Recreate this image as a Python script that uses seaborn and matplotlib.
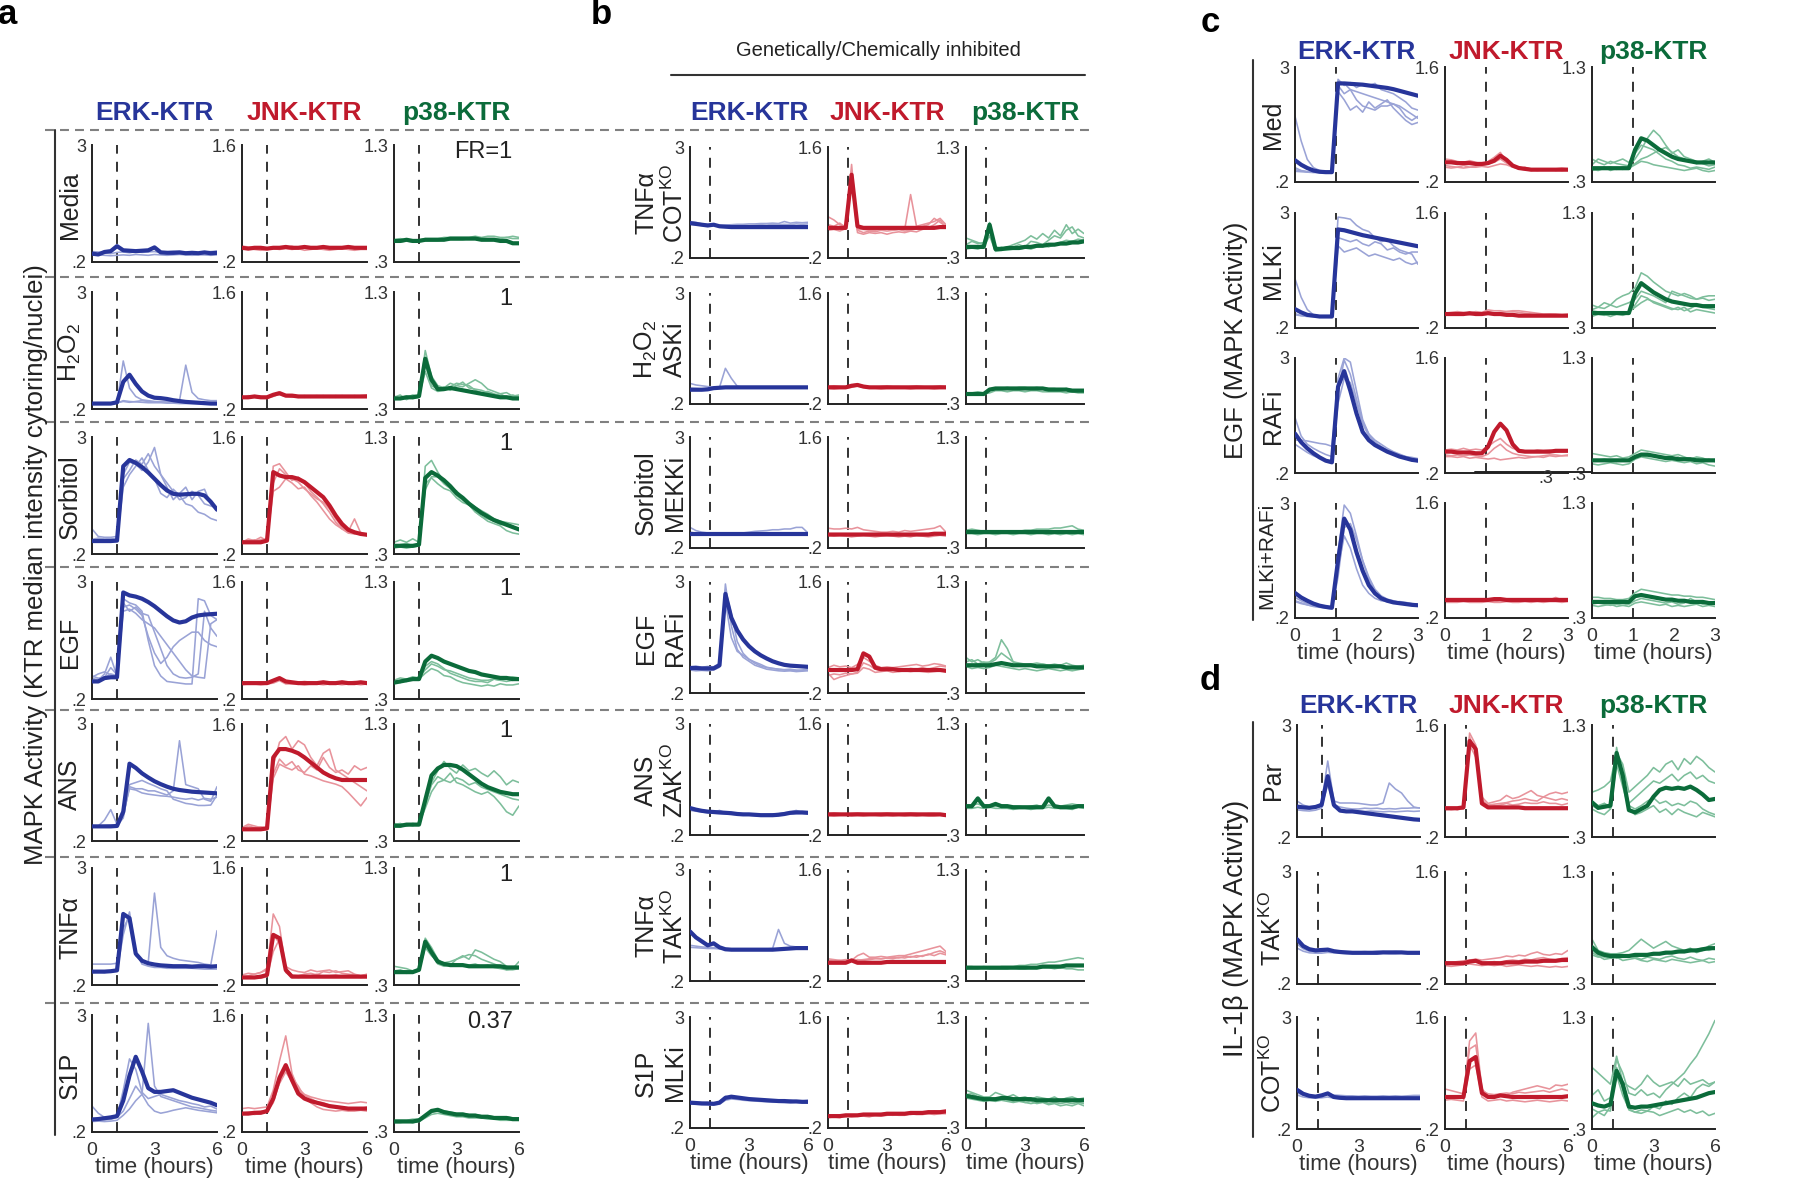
import matplotlib
matplotlib.use('Agg')
import matplotlib.pyplot as plt
from matplotlib.lines import Line2D
from matplotlib import font_manager
import pandas as pd
import seaborn as sns

# time grids (hours)
T6 = [0, .3, .6, .9, 1.2, 1.5, 1.8, 2.1, 2.4, 2.7, 3.0, 3.3, 3.6, 3.9, 4.2, 4.5, 4.8, 5.1, 5.4, 5.7, 6.0]
T3 = [0, .15, .3, .45, .6, .75, .9, 1.05, 1.2, 1.35, 1.5, 1.65, 1.8, 1.95, 2.1, 2.25, 2.4, 2.55, 2.7, 2.85, 3.0]

# each reporter: first list = mean trace (thick), others = single replicates (thin)
# ---------------- panel a ----------------
a_media_erk = [[.40,.38,.44,.46,.58,.48,.47,.46,.47,.48,.55,.43,.42,.42,.43,.41,.42,.41,.43,.41,.42],
               [.45,.44,.42,.40,.43,.44,.42,.45,.43,.44,.45,.42,.44,.46,.45,.44,.43,.42,.44,.45,.46],
               [.36,.37,.36,.35,.36,.37,.36,.38,.37,.36,.38,.37,.36,.37,.38,.37,.36,.37,.37,.36,.37]]
a_media_jnk = [[.37,.36,.37,.37,.36,.37,.37,.38,.37,.37,.38,.37,.37,.38,.37,.37,.37,.38,.37,.37,.37],
               [.39,.38,.37,.38,.36,.37,.36,.37,.39,.36,.37,.36,.38,.37,.36,.37,.36,.37,.36,.37,.36],
               [.35,.36,.35,.34,.35,.36,.35,.36,.35,.36,.34,.35,.36,.35,.34,.35,.36,.35,.34,.35,.35]]
a_media_p38 = [[.48,.48,.49,.48,.48,.49,.49,.49,.49,.50,.50,.50,.50,.50,.49,.49,.49,.48,.48,.46,.46],
               [.49,.50,.49,.49,.49,.50,.50,.50,.51,.51,.51,.51,.51,.52,.51,.52,.52,.51,.51,.52,.51],
               [.47,.47,.48,.47,.48,.48,.48,.48,.49,.49,.49,.49,.50,.50,.50,.50,.50,.50,.51,.50,.50]]

a_h2o2_erk = [[.33,.33,.33,.33,.36,.85,1.02,.80,.62,.52,.47,.46,.44,.41,.39,.37,.36,.35,.34,.33,.33],
              [.32,.32,.33,.33,.34,1.35,.70,.50,.42,.40,.38,.37,.37,.36,.35,.36,.35,.34,.34,.34,.35],
              [.33,.33,.34,.34,.35,.38,.36,.38,.40,.38,.37,.38,.37,.37,.40,1.25,.60,.45,.42,.40,.40],
              [.34,.34,.33,.34,.34,.40,.38,.37,.36,.35,.35,.35,.34,.34,.33,.33,.33,.33,.33,.33,.33]]
a_h2o2_jnk = [[.34,.34,.35,.34,.34,.37,.39,.36,.36,.35,.35,.35,.35,.35,.35,.35,.35,.35,.35,.35,.35],
              [.33,.36,.34,.33,.35,.36,.37,.35,.34,.36,.34,.35,.36,.34,.35,.34,.36,.35,.34,.36,.37],
              [.35,.33,.36,.35,.33,.35,.38,.37,.35,.34,.36,.34,.35,.36,.34,.36,.35,.34,.36,.35,.36]]
a_h2o2_p38 = [[.39,.39,.40,.40,.41,.73,.55,.47,.47,.48,.47,.46,.45,.44,.43,.42,.41,.40,.40,.39,.39],
              [.40,.42,.38,.41,.40,.80,.58,.50,.48,.52,.50,.49,.52,.55,.52,.47,.45,.43,.44,.41,.42],
              [.38,.40,.41,.39,.40,.68,.50,.47,.49,.46,.50,.53,.48,.47,.46,.44,.42,.43,.40,.42,.40],
              [.41,.39,.40,.42,.41,.62,.48,.45,.46,.49,.52,.51,.50,.46,.44,.45,.43,.41,.41,.40,.41]]

a_sorb_erk = [[.51,.51,.51,.51,.52,2.30,2.45,2.38,2.28,2.15,2.00,1.85,1.72,1.64,1.62,1.63,1.64,1.64,1.60,1.45,1.26],
              [.80,.62,.60,.60,.62,2.0,2.2,2.45,2.35,2.6,2.3,2.1,1.9,1.7,1.5,1.55,1.7,1.6,1.4,1.35,1.3],
              [.55,.58,.56,.57,.55,1.8,2.1,2.3,2.5,2.2,2.0,1.65,1.55,1.75,1.6,1.4,1.35,1.2,1.15,1.05,1.0],
              [.48,.50,.49,.50,.52,2.1,2.4,2.35,2.2,2.4,2.75,2.1,1.8,1.5,1.65,1.8,1.5,1.7,1.75,1.4,1.3]]
a_sorb_jnk = [[.34,.34,.34,.34,.36,1.18,1.14,1.12,1.12,1.10,1.06,1.00,.94,.88,.78,.66,.56,.49,.46,.44,.43],
              [.34,.38,.36,.40,.36,1.25,1.28,1.18,1.08,1.12,1.05,.95,.88,.80,.70,.58,.50,.47,.62,.45,.44],
              [.35,.36,.35,.37,.38,.95,1.00,1.10,1.05,.98,1.00,.90,.82,.72,.62,.55,.50,.45,.44,.46,.42],
              [.36,.35,.37,.36,.37,1.05,1.22,1.15,1.10,1.06,.98,.92,.86,.82,.74,.62,.52,.46,.45,.43,.44]]
a_sorb_p38 = [[.37,.37,.37,.37,.38,.95,1.00,.97,.93,.88,.82,.78,.73,.69,.65,.62,.59,.57,.55,.53,.51],
              [.40,.42,.40,.43,.40,1.05,1.10,1.00,.92,.86,.80,.76,.72,.66,.62,.60,.58,.55,.56,.54,.50],
              [.36,.38,.39,.37,.38,.90,.95,.90,.86,.84,.78,.74,.72,.66,.62,.58,.56,.54,.50,.48,.47],
              [.35,.36,.35,.36,.37,.85,.96,.96,.90,.86,.84,.78,.74,.70,.67,.64,.60,.58,.57,.56,.55]]

a_egf_erk = [[.62,.62,.70,.72,.72,2.75,2.68,2.65,2.60,2.52,2.42,2.30,2.18,2.08,2.03,2.06,2.15,2.20,2.22,2.23,2.24],
             [.70,.65,.80,1.2,.75,2.6,2.5,2.45,2.3,1.6,1.0,.75,.62,.60,.58,.56,.56,2.6,2.55,2.2,2.1],
             [.75,.70,.72,.80,.76,2.4,2.45,2.35,2.2,1.7,1.3,1.05,1.2,1.45,1.6,1.7,1.8,1.8,1.6,1.5,1.45],
             [.65,.68,.72,.95,.78,2.5,2.3,2.4,2.25,2.2,1.8,1.4,1.0,.80,.72,.70,.72,.80,2.3,1.9,1.7],
             [.72,.80,.85,.78,.74,2.3,2.35,2.25,2.1,2.0,1.9,1.7,1.5,1.3,1.1,.9,.75,.72,.70,2.0,2.1]]
a_egf_jnk = [[.39,.39,.39,.39,.39,.42,.45,.41,.40,.39,.39,.39,.39,.40,.39,.39,.40,.39,.39,.40,.39],
             [.38,.40,.39,.38,.40,.41,.43,.40,.39,.40,.41,.40,.39,.41,.40,.39,.41,.40,.41,.40,.40],
             [.37,.38,.38,.37,.38,.39,.42,.38,.38,.38,.37,.38,.38,.37,.38,.38,.37,.38,.38,.37,.38]]
a_egf_p38 = [[.44,.45,.46,.47,.47,.62,.67,.65,.62,.60,.58,.56,.54,.53,.51,.50,.49,.48,.48,.47,.47],
             [.46,.48,.47,.49,.48,.55,.60,.58,.55,.54,.52,.50,.48,.47,.46,.46,.47,.46,.48,.49,.48],
             [.43,.46,.45,.48,.47,.52,.56,.54,.50,.49,.46,.44,.43,.42,.41,.42,.41,.43,.42,.42,.43],
             [.45,.44,.47,.46,.49,.58,.62,.60,.56,.52,.50,.48,.46,.45,.45,.44,.47,.46,.45,.46,.48]]

a_ans_erk = [[.55,.55,.55,.55,.56,.90,2.05,1.95,1.82,1.72,1.63,1.56,1.50,1.45,1.42,1.40,1.38,1.37,1.36,1.35,1.34],
             [.55,.56,.70,.95,.60,.80,1.50,1.45,1.45,1.40,1.40,1.35,1.30,1.40,2.60,1.55,1.50,1.45,1.20,1.15,1.50],
             [.57,.56,.57,.58,.57,.75,1.55,1.60,1.65,1.58,1.52,1.45,1.40,1.20,1.15,1.10,1.08,1.05,1.05,1.06,1.30],
             [.54,.55,.54,.55,.56,.85,1.45,1.42,1.35,1.32,1.30,1.28,1.27,1.25,1.22,1.20,1.22,1.18,1.22,1.20,1.25]]
a_ans_jnk = [[.34,.34,.34,.34,.35,1.20,1.30,1.30,1.28,1.25,1.20,1.14,1.08,1.02,.98,.95,.93,.93,.93,.93,.93],
             [.36,.40,.38,.36,.36,1.10,1.38,1.45,1.30,1.40,1.35,1.20,1.10,1.25,1.30,1.05,1.00,.95,.90,.85,.80],
             [.35,.38,.36,.37,.36,1.00,1.18,1.10,1.15,1.05,1.02,1.10,1.05,1.20,1.08,1.02,1.05,1.00,1.10,1.05,1.08],
             [.33,.35,.34,.34,.35,.95,1.12,1.08,1.05,1.10,1.00,.98,.95,.92,.90,.88,.85,.78,.70,.62,.72]]
a_ans_p38 = [[.43,.43,.44,.44,.44,.65,.86,.92,.95,.95,.94,.91,.87,.83,.79,.76,.74,.72,.71,.70,.70],
             [.45,.44,.43,.45,.44,.60,.80,.90,.98,.92,.88,.95,.90,.92,.88,.85,.90,.85,.78,.82,.80],
             [.43,.42,.44,.43,.45,.62,.78,.85,.82,.88,.80,.78,.75,.72,.70,.72,.68,.62,.55,.52,.60],
             [.44,.45,.43,.44,.45,.58,.72,.80,.82,.80,.84,.82,.78,.80,.76,.74,.72,.70,.68,.66,.65]]

a_tnf_erk = [[.52,.52,.52,.53,.55,1.90,1.80,.95,.78,.72,.69,.67,.66,.65,.65,.65,.64,.65,.65,.64,.65],
             [.70,.70,.70,.70,.72,1.55,1.85,.90,.78,.74,2.40,1.10,.90,.84,.80,.78,.76,.74,.70,.68,1.50],
             [.50,.51,.50,.52,.54,1.40,1.95,1.00,.70,.65,.62,.62,.60,.60,.60,.60,.60,.59,.58,.58,.58]]
a_tnf_jnk = [[.29,.29,.29,.30,.32,.80,.76,.38,.30,.30,.30,.30,.30,.30,.30,.30,.30,.30,.30,.30,.30],
             [.30,.31,.33,.35,.38,1.05,.90,.40,.32,.31,.33,.34,.32,.36,.35,.37,.34,.33,.32,.31,.32],
             [.32,.34,.33,.35,.40,.80,.70,.42,.38,.36,.35,.38,.36,.37,.38,.35,.36,.37,.33,.31,.33],
             [.28,.29,.30,.28,.30,.60,.75,.35,.30,.29,.30,.31,.33,.30,.31,.32,.30,.31,.30,.29,.30]]
a_tnf_p38 = [[.41,.41,.41,.41,.43,.67,.58,.50,.48,.47,.47,.47,.46,.46,.46,.46,.46,.46,.45,.45,.45],
             [.46,.45,.44,.42,.44,.70,.62,.52,.48,.47,.52,.55,.52,.60,.58,.55,.52,.50,.46,.44,.45],
             [.42,.43,.41,.42,.42,.62,.55,.50,.49,.50,.52,.54,.56,.55,.52,.50,.48,.46,.43,.44,.50],
             [.40,.41,.40,.41,.42,.64,.56,.48,.46,.47,.48,.46,.47,.48,.46,.47,.45,.44,.43,.43,.44]]

a_s1p_erk = [[.50,.51,.53,.55,.58,.95,1.55,2.00,1.65,1.25,1.16,1.16,1.18,1.20,1.14,1.08,1.02,.98,.94,.90,.84],
             [.52,.50,.49,.50,.55,.70,1.00,1.30,1.10,2.80,1.30,1.05,1.00,.95,.90,.85,.80,.78,.75,.72,.70],
             [.82,.65,.55,.52,.56,1.20,1.95,1.70,1.15,1.00,1.05,1.10,1.05,1.00,.95,.92,.88,.85,.80,.82,.75],
             [.45,.46,.45,.46,.48,.60,.75,.95,1.10,.85,.70,.65,.68,.72,.75,.78,.75,.72,.70,.68,.66]]
a_s1p_jnk = [[.42,.42,.43,.43,.45,.60,.85,1.00,.82,.66,.60,.57,.55,.53,.51,.50,.49,.48,.48,.48,.48],
             [.48,.49,.48,.49,.50,.70,1.05,1.35,.90,.72,.65,.62,.60,.58,.57,.56,.55,.54,.55,.56,.55],
             [.41,.42,.41,.42,.44,.55,.80,.95,.85,.75,.62,.55,.50,.47,.46,.45,.46,.45,.45,.46,.45],
             [.43,.44,.44,.45,.46,.58,.78,.92,.80,.70,.64,.60,.56,.55,.52,.50,.48,.46,.47,.48,.50]]
a_s1p_p38 = [[.39,.39,.39,.39,.40,.44,.48,.49,.47,.46,.45,.45,.44,.44,.43,.43,.42,.42,.42,.41,.41],
             [.38,.38,.39,.38,.39,.42,.45,.46,.45,.44,.43,.43,.42,.42,.42,.41,.41,.40,.40,.40,.40],
             [.40,.40,.40,.41,.41,.43,.47,.48,.48,.47,.46,.46,.45,.45,.44,.44,.43,.43,.43,.42,.42]]

# ---------------- panel b ----------------
b_cot_erk = [[1.08,1.06,1.04,1.02,1.04,1.00,.99,.98,.98,.98,.98,.98,.98,.98,.98,.98,.98,.98,.98,.98,.98],
             [1.12,1.10,1.06,1.05,1.03,1.02,1.03,1.04,1.05,1.05,1.06,1.06,1.07,1.07,1.08,1.07,1.12,1.08,1.10,1.09,1.10],
             [1.05,1.04,1.02,1.01,1.02,1.00,1.01,1.01,1.02,1.03,1.02,1.03,1.04,1.03,1.05,1.04,1.05,1.04,1.06,1.05,1.06]]
b_cot_jnk = [[.58,.58,.58,.58,1.25,.60,.58,.58,.58,.58,.58,.58,.58,.58,.58,.58,.58,.58,.58,.59,.59],
             [.72,.68,.62,.60,1.38,.55,.52,.54,.53,.55,.54,.55,.56,.54,.55,.57,.60,.62,.70,.65,.60],
             [.62,.60,.64,.58,1.30,.56,.56,.55,.55,.56,.57,.55,.56,.56,1.00,.60,.62,.64,.66,.70,.62],
             [.55,.56,.54,.57,1.15,.52,.50,.52,.51,.52,.50,.52,.53,.52,.54,.53,.56,.58,.62,.68,.58]]
b_cot_p38 = [[.40,.40,.40,.40,.60,.38,.38,.39,.39,.39,.40,.40,.41,.41,.42,.42,.43,.43,.44,.44,.45],
             [.48,.46,.44,.42,.55,.40,.39,.40,.42,.44,.46,.50,.47,.52,.48,.55,.50,.60,.52,.56,.52],
             [.42,.45,.43,.44,.62,.38,.40,.38,.40,.42,.40,.45,.44,.42,.46,.50,.48,.55,.58,.50,.48],
             [.38,.39,.38,.40,.50,.36,.37,.37,.38,.38,.39,.38,.40,.41,.40,.42,.44,.46,.45,.47,.46]]

b_ask_erk = [[.56,.56,.56,.57,.60,.61,.62,.62,.62,.62,.62,.62,.62,.62,.62,.62,.62,.62,.62,.62,.62],
             [.72,.68,.66,.64,.62,.62,1.10,.85,.65,.62,.62,.63,.62,.63,.62,.62,.63,.62,.62,.63,.62],
             [.60,.59,.58,.58,.60,.60,.61,.60,.60,.61,.60,.61,.60,.60,.61,.60,.60,.61,.60,.60,.60]]
b_ask_jnk = [[.41,.41,.41,.41,.43,.44,.42,.41,.41,.41,.41,.41,.41,.41,.41,.41,.41,.41,.41,.41,.41],
             [.42,.43,.42,.41,.44,.45,.43,.42,.41,.42,.43,.42,.42,.41,.42,.43,.42,.41,.42,.43,.42],
             [.40,.39,.40,.40,.41,.43,.41,.40,.40,.39,.40,.40,.40,.40,.39,.40,.40,.40,.39,.40,.40]]
b_ask_p38 = [[.39,.39,.39,.39,.43,.44,.44,.44,.44,.44,.44,.44,.44,.44,.43,.43,.43,.43,.42,.42,.42],
             [.40,.40,.41,.40,.42,.43,.44,.45,.44,.45,.45,.44,.45,.44,.44,.44,.43,.44,.43,.43,.43],
             [.38,.38,.38,.39,.40,.42,.42,.41,.42,.42,.41,.42,.42,.41,.41,.41,.41,.40,.41,.40,.40]]

b_mekk_erk = [[.56,.56,.56,.56,.56,.56,.56,.56,.56,.56,.56,.56,.56,.56,.56,.56,.56,.56,.56,.56,.56],
              [.72,.64,.60,.58,.57,.57,.58,.57,.58,.58,.60,.62,.63,.64,.66,.66,.68,.68,.72,.72,.58],
              [.60,.57,.56,.55,.54,.55,.54,.55,.54,.55,.54,.53,.54,.55,.54,.55,.54,.53,.54,.55,.54]]
b_mekk_jnk = [[.37,.37,.37,.37,.37,.37,.37,.37,.37,.37,.37,.37,.37,.37,.37,.37,.37,.37,.38,.38,.38],
              [.45,.44,.44,.45,.44,.46,.43,.42,.41,.40,.40,.41,.40,.42,.41,.42,.43,.44,.45,.48,.40],
              [.36,.35,.36,.35,.34,.35,.36,.35,.34,.35,.36,.35,.34,.35,.34,.36,.35,.34,.35,.36,.35]]
b_mekk_p38 = [[.44,.44,.44,.44,.44,.44,.44,.44,.44,.44,.44,.44,.44,.44,.44,.44,.44,.44,.44,.44,.44],
              [.46,.47,.46,.45,.45,.44,.45,.44,.45,.45,.46,.46,.47,.47,.47,.48,.48,.49,.50,.47,.46],
              [.43,.43,.42,.43,.43,.42,.43,.43,.42,.43,.43,.42,.43,.43,.42,.43,.42,.43,.42,.43,.42]]

b_raf_erk = [[.83,.83,.82,.82,.82,.90,2.70,2.10,1.78,1.55,1.38,1.25,1.15,1.07,1.00,.95,.91,.89,.88,.87,.86],
             [.78,.76,.77,.76,.78,.85,2.95,1.90,1.30,1.10,1.00,.90,.85,.80,.78,.76,.75,.76,.74,.75,.76],
             [.86,.88,.85,.87,.86,.95,2.50,1.60,1.25,1.15,1.05,.98,.92,.85,.82,.80,.78,.77,.76,.78,.80],
             [.80,.79,.80,.80,.81,.88,2.80,2.20,1.50,1.20,1.05,.95,.88,.84,.82,.80,.79,.80,.78,.77,.78]]
b_raf_jnk = [[.49,.49,.49,.49,.49,.50,.70,.66,.52,.50,.50,.50,.49,.49,.49,.49,.49,.49,.49,.49,.48],
             [.45,.37,.40,.42,.44,.46,.58,.55,.50,.48,.50,.52,.50,.49,.51,.50,.52,.50,.52,.54,.53],
             [.52,.55,.53,.54,.52,.56,.65,.60,.55,.52,.53,.52,.53,.54,.55,.56,.54,.55,.57,.56,.54],
             [.42,.44,.43,.45,.44,.45,.52,.50,.46,.47,.48,.46,.47,.48,.47,.48,.47,.46,.47,.48,.47]]
b_raf_p38 = [[.55,.55,.55,.55,.55,.56,.57,.56,.55,.55,.55,.55,.54,.54,.54,.54,.54,.53,.53,.53,.53],
             [.62,.58,.60,.57,.58,.62,.78,.70,.58,.57,.56,.56,.55,.56,.55,.54,.55,.54,.53,.54,.55],
             [.58,.60,.56,.58,.57,.60,.66,.62,.58,.56,.55,.56,.57,.56,.55,.56,.55,.57,.55,.54,.54],
             [.54,.52,.53,.52,.53,.55,.54,.53,.52,.51,.52,.51,.50,.51,.52,.51,.50,.51,.50,.51,.52]]

b_zak_erk = [[.88,.84,.81,.79,.78,.77,.76,.75,.73,.72,.72,.71,.70,.70,.70,.71,.73,.76,.77,.77,.76],
             [.86,.83,.80,.78,.78,.82,.76,.75,.74,.74,.73,.72,.72,.72,.73,.74,.76,.78,.82,.77,.76],
             [.82,.80,.78,.76,.75,.74,.73,.72,.71,.70,.70,.69,.69,.69,.70,.71,.72,.73,.74,.74,.73]]
b_zak_jnk = [[.46,.46,.46,.46,.46,.46,.46,.46,.46,.46,.46,.46,.46,.46,.46,.46,.46,.46,.46,.46,.45],
             [.47,.48,.47,.46,.47,.48,.47,.46,.47,.47,.48,.47,.46,.47,.48,.47,.46,.47,.47,.46,.46],
             [.45,.44,.45,.45,.44,.45,.44,.45,.45,.44,.45,.44,.45,.44,.45,.44,.45,.44,.44,.45,.44]]
b_zak_p38 = [[.56,.56,.63,.56,.56,.58,.56,.56,.55,.55,.55,.55,.55,.55,.63,.56,.55,.55,.55,.56,.56],
             [.55,.57,.58,.56,.57,.56,.57,.55,.56,.56,.55,.56,.57,.55,.57,.56,.56,.57,.58,.57,.56],
             [.54,.54,.55,.54,.55,.54,.54,.54,.53,.54,.54,.53,.54,.54,.55,.54,.54,.54,.53,.55,.54]]

b_tak_erk = [[1.45,1.30,1.20,1.10,1.15,1.05,1.00,.99,.99,.99,.99,.99,.99,.99,.99,1.00,1.01,1.02,1.03,1.03,1.03],
             [1.10,1.08,1.06,1.05,1.04,1.03,1.02,1.01,1.00,1.00,1.00,1.00,1.00,1.01,1.02,1.50,1.15,1.08,1.06,1.05,1.05],
             [1.05,1.04,1.03,1.02,1.02,1.01,1.00,1.00,.99,.99,.99,.98,.99,.99,1.00,1.00,1.01,1.02,1.03,1.04,1.03]]
b_tak_jnk = [[.43,.43,.43,.43,.46,.43,.43,.43,.43,.43,.44,.44,.44,.44,.44,.44,.44,.44,.44,.44,.44],
             [.48,.47,.46,.47,.46,.52,.55,.50,.50,.51,.50,.51,.52,.52,.54,.56,.58,.60,.62,.64,.57],
             [.46,.45,.44,.45,.45,.46,.47,.48,.49,.48,.49,.48,.50,.49,.51,.50,.52,.53,.56,.58,.55],
             [.44,.45,.46,.44,.45,.47,.46,.47,.48,.48,.49,.50,.49,.51,.50,.52,.51,.54,.52,.55,.53]]
b_tak_p38 = [[.42,.42,.42,.42,.42,.42,.42,.42,.42,.42,.42,.42,.42,.43,.43,.43,.43,.44,.44,.44,.44],
             [.43,.43,.42,.43,.42,.42,.43,.43,.43,.44,.44,.45,.45,.46,.47,.47,.48,.49,.50,.51,.50],
             [.41,.41,.41,.42,.41,.41,.41,.41,.42,.41,.41,.42,.42,.42,.42,.41,.42,.41,.41,.40,.40]]

b_mlk_erk = [[.84,.83,.82,.82,.81,.84,.96,.99,.97,.95,.93,.92,.91,.90,.89,.88,.88,.87,.87,.86,.86],
             [.86,.85,.84,.83,.82,.86,1.00,.97,.95,.94,.92,.93,.91,.90,.91,.88,.89,.90,.87,.88,.90],
             [.80,.80,.79,.78,.78,.80,.90,.93,.92,.90,.89,.88,.87,.86,.85,.85,.84,.84,.85,.84,.84]]
b_mlk_jnk = [[.35,.35,.35,.36,.36,.36,.37,.37,.37,.37,.38,.38,.38,.38,.39,.39,.39,.40,.40,.40,.41],
             [.34,.36,.35,.34,.36,.35,.36,.38,.36,.37,.37,.36,.38,.39,.37,.38,.40,.38,.41,.40,.42],
             [.33,.34,.33,.35,.34,.35,.35,.34,.36,.35,.36,.37,.36,.36,.38,.37,.37,.38,.37,.38,.38]]
b_mlk_p38 = [[.59,.58,.57,.56,.56,.56,.57,.57,.56,.56,.56,.56,.55,.55,.55,.55,.55,.55,.55,.55,.55],
             [.64,.62,.60,.58,.58,.62,.60,.58,.60,.57,.58,.56,.58,.57,.56,.58,.55,.57,.58,.56,.57],
             [.60,.61,.58,.57,.56,.55,.58,.55,.54,.56,.53,.54,.52,.53,.51,.52,.50,.51,.50,.52,.50],
             [.57,.56,.55,.54,.55,.54,.55,.54,.53,.54,.53,.52,.53,.54,.52,.53,.52,.53,.52,.53,.52]]

# ---------------- panel c (EGF, 0-3 h) ----------------
c_med_erk = [[.73,.62,.54,.48,.45,.44,.44,2.60,2.60,2.59,2.58,2.57,2.55,2.53,2.51,2.49,2.46,2.42,2.38,2.34,2.30],
             [1.80,1.20,.75,.55,.48,.46,.45,2.70,2.55,2.62,2.50,2.58,2.55,2.60,2.45,2.40,2.35,2.25,2.15,2.00,1.95],
             [.50,.47,.45,.44,.44,.43,.44,2.40,2.20,1.95,2.05,1.90,2.15,2.00,2.10,2.20,2.00,1.85,1.70,1.60,1.65],
             [.46,.45,.44,.43,.43,.42,.43,2.55,2.35,2.45,2.20,2.05,2.00,1.95,2.05,2.05,2.10,2.05,1.95,1.85,1.75],
             [.55,.48,.45,.44,.43,.43,.44,2.65,2.60,2.45,2.40,2.35,2.30,2.25,2.20,2.15,2.10,2.00,1.80,1.70,1.80]]
c_med_jnk = [[.44,.44,.43,.43,.43,.42,.42,.43,.46,.52,.47,.40,.37,.36,.35,.35,.35,.35,.35,.35,.35],
             [.48,.47,.45,.44,.46,.44,.42,.45,.50,.56,.45,.40,.38,.37,.36,.36,.35,.36,.36,.37,.36],
             [.40,.39,.38,.40,.38,.39,.40,.42,.44,.48,.43,.39,.36,.38,.35,.34,.35,.36,.34,.35,.36],
             [.38,.37,.38,.37,.38,.38,.39,.38,.40,.42,.41,.38,.36,.35,.34,.35,.36,.35,.35,.34,.35]]
c_med_p38 = [[.42,.42,.42,.42,.42,.42,.42,.58,.68,.66,.62,.58,.55,.52,.50,.49,.48,.47,.47,.47,.47],
             [.50,.47,.45,.48,.46,.45,.44,.50,.58,.68,.75,.70,.62,.55,.58,.52,.50,.48,.46,.44,.45],
             [.45,.50,.48,.46,.48,.50,.47,.55,.62,.60,.58,.54,.50,.48,.45,.44,.42,.43,.42,.41,.43],
             [.40,.41,.43,.40,.42,.41,.43,.46,.50,.52,.55,.58,.60,.56,.52,.50,.48,.46,.48,.50,.47],
             [.41,.40,.42,.43,.41,.43,.42,.45,.48,.47,.45,.44,.43,.42,.41,.40,.41,.42,.40,.39,.40]]

c_mlk_erk = [[.66,.58,.52,.50,.48,.48,.48,2.60,2.58,2.54,2.50,2.46,2.43,2.40,2.37,2.34,2.31,2.28,2.25,2.22,2.19],
             [1.40,.95,.65,.52,.49,.48,.48,2.90,2.88,2.85,2.70,2.60,2.55,2.40,2.30,2.35,2.20,2.10,2.05,2.00,1.75],
             [.55,.50,.49,.48,.47,.47,.48,2.40,2.35,2.30,2.35,2.25,2.20,2.30,2.25,2.10,2.15,2.05,2.00,2.05,2.05],
             [.52,.50,.48,.48,.48,.48,.47,2.20,2.05,2.10,2.15,2.05,1.95,2.00,1.95,1.90,1.85,1.90,1.80,1.75,1.80]]
c_mlk_jnk = [[.37,.37,.37,.37,.38,.37,.37,.38,.37,.37,.36,.36,.35,.35,.35,.35,.35,.35,.35,.35,.35],
             [.38,.39,.40,.39,.38,.40,.39,.42,.41,.41,.40,.41,.41,.40,.39,.38,.37,.37,.37,.36,.37],
             [.36,.37,.36,.37,.36,.37,.36,.40,.38,.39,.40,.40,.39,.38,.37,.36,.36,.37,.36,.36,.36]]
c_mlk_p38 = [[.43,.43,.43,.43,.43,.43,.43,.60,.69,.65,.61,.58,.55,.53,.52,.51,.50,.50,.49,.49,.49],
             [.50,.48,.52,.50,.55,.58,.60,.65,.78,.75,.70,.66,.62,.60,.58,.60,.58,.55,.56,.54,.55],
             [.46,.48,.47,.50,.48,.50,.52,.55,.62,.60,.58,.55,.52,.62,.60,.58,.56,.55,.57,.58,.58],
             [.40,.42,.41,.43,.42,.41,.43,.50,.58,.56,.52,.50,.48,.46,.48,.45,.47,.50,.48,.47,.46],
             [.45,.44,.42,.40,.42,.43,.44,.48,.52,.55,.53,.51,.49,.47,.46,.48,.44,.46,.45,.44,.43]]

c_raf_erk = [[1.16,.95,.80,.68,.58,.50,.46,2.30,2.68,2.20,1.65,1.20,1.00,.88,.80,.72,.66,.60,.56,.52,.50],
             [1.55,1.10,.90,.80,.72,.65,.60,2.50,3.00,2.90,2.20,1.50,1.15,1.00,.90,.80,.72,.66,.60,.55,.52],
             [1.00,1.00,.98,.95,.92,.90,.85,2.20,2.95,2.60,2.00,1.45,1.15,.95,.85,.75,.68,.62,.56,.50,.48],
             [.90,.80,.70,.62,.56,.52,.50,1.90,2.50,2.40,1.90,1.40,1.10,.95,.82,.74,.68,.64,.60,.58,.55]]
c_raf_jnk = [[.46,.46,.45,.45,.45,.44,.44,.52,.70,.80,.72,.55,.47,.46,.46,.46,.46,.46,.47,.47,.47],
             [.48,.49,.48,.50,.48,.49,.48,.52,.58,.62,.55,.50,.48,.47,.46,.48,.47,.48,.46,.47,.48],
             [.42,.41,.42,.41,.42,.41,.40,.43,.50,.55,.48,.44,.42,.41,.40,.40,.41,.42,.42,.41,.42],
             [.40,.40,.39,.40,.38,.39,.38,.37,.38,.36,.37,.38,.39,.38,.39,.40,.39,.41,.40,.41,.41]]
c_raf_p38 = [[.41,.41,.41,.41,.41,.41,.41,.44,.46,.46,.45,.44,.43,.43,.42,.42,.42,.41,.41,.41,.41],
             [.47,.46,.45,.44,.45,.43,.44,.47,.50,.49,.48,.47,.46,.45,.46,.44,.42,.44,.43,.41,.40],
             [.40,.41,.42,.41,.40,.42,.41,.43,.45,.44,.45,.43,.44,.42,.44,.41,.42,.43,.41,.42,.40],
             [.38,.37,.38,.39,.38,.37,.38,.42,.44,.43,.42,.41,.40,.41,.40,.39,.40,.38,.39,.37,.36]]

c_mlkraf_erk = [[.81,.70,.62,.55,.50,.47,.45,1.60,2.62,2.35,1.80,1.35,1.00,.80,.68,.62,.58,.56,.54,.52,.51],
                [.70,.62,.55,.50,.48,.46,.45,1.80,2.95,2.75,2.20,1.60,1.20,.90,.74,.66,.62,.58,.56,.55,.54],
                [.60,.55,.52,.48,.46,.44,.42,1.20,2.40,2.50,2.10,1.60,1.15,.85,.70,.62,.58,.60,.58,.55,.52],
                [.62,.57,.52,.49,.47,.45,.44,1.40,2.20,1.90,1.40,1.00,.80,.68,.62,.60,.57,.55,.54,.52,.50]]
c_mlkraf_jnk = [[.42,.42,.42,.42,.42,.42,.42,.42,.43,.43,.42,.42,.42,.42,.42,.42,.42,.42,.42,.42,.42],
                [.41,.41,.40,.41,.40,.40,.41,.41,.40,.41,.41,.40,.41,.41,.41,.42,.41,.42,.45,.42,.41],
                [.39,.39,.39,.40,.39,.39,.39,.40,.39,.39,.40,.39,.39,.40,.39,.40,.39,.40,.40,.39,.40]]
c_mlkraf_p38 = [[.44,.44,.44,.44,.44,.44,.44,.49,.50,.49,.48,.47,.46,.46,.45,.45,.44,.44,.44,.43,.43],
                [.48,.48,.47,.47,.46,.46,.47,.52,.55,.54,.53,.52,.51,.50,.50,.49,.49,.48,.48,.47,.46],
                [.42,.43,.42,.41,.42,.41,.42,.45,.47,.46,.45,.44,.43,.44,.42,.43,.47,.44,.42,.43,.42],
                [.41,.40,.41,.42,.40,.41,.40,.43,.44,.43,.42,.41,.42,.40,.41,.40,.41,.42,.40,.41,.40]]

# ---------------- panel d (IL-1b, 0-6 h) ----------------
d_par_erk = [[.96,.94,.93,.95,1.00,1.72,1.00,.86,.84,.84,.82,.80,.78,.76,.74,.72,.70,.68,.66,.64,.63],
             [1.10,1.00,.95,.96,1.05,2.10,1.10,1.05,1.05,1.05,1.04,1.02,1.00,1.00,1.05,1.55,1.40,1.30,1.10,.95,.92],
             [.90,.92,.91,.93,.98,1.50,1.00,.95,.92,.90,.90,.92,.91,.92,.90,.91,.90,.92,.92,.93,.93],
             [.88,.86,.85,.87,.92,1.60,.95,.88,.85,.86,.85,.84,.85,.84,.83,.84,.83,.84,.85,.84,.85]]
d_par_jnk = [[.56,.56,.56,.57,1.40,1.30,.62,.57,.57,.57,.57,.57,.57,.56,.56,.56,.56,.56,.56,.56,.56],
             [.55,.54,.55,.56,1.50,1.35,.70,.62,.64,.66,.72,.68,.70,.74,.78,.72,.70,.74,.76,.74,.76],
             [.54,.55,.56,.55,1.45,1.25,.66,.60,.61,.62,.63,.65,.66,.68,.66,.65,.70,.68,.66,.68,.66],
             [.55,.56,.54,.56,1.35,1.20,.64,.58,.59,.60,.62,.60,.61,.63,.62,.62,.64,.62,.62,.60,.62]]
d_par_p38 = [[.61,.56,.57,.58,1.05,.85,.54,.52,.55,.58,.66,.72,.74,.73,.74,.73,.75,.72,.68,.63,.64],
             [.70,.72,.75,.80,1.05,.95,.70,.75,.80,.85,.92,.88,.95,.98,.90,1.00,.95,1.02,.98,.92,.88],
             [.62,.58,.60,.55,1.00,.80,.60,.65,.70,.75,.80,.78,.82,.86,.80,.85,.88,.82,.85,.80,.78],
             [.55,.52,.50,.55,.95,.75,.55,.50,.52,.55,.58,.52,.55,.50,.55,.52,.50,.48,.52,.50,.48],
             [.58,.55,.60,.57,1.10,.80,.58,.55,.58,.62,.65,.60,.62,.58,.60,.58,.62,.60,.55,.52,.50]]

d_tak_erk = [[1.32,1.15,1.07,1.04,1.05,1.06,1.02,1.00,.99,.98,.98,.98,.98,.98,.99,.99,.99,.99,.98,.98,.98],
             [1.20,1.08,1.02,1.00,1.01,1.03,1.00,.99,.98,.99,1.00,1.01,1.00,1.02,1.01,1.00,1.01,1.00,.99,1.00,.99],
             [1.10,1.02,.98,.97,.97,.99,.98,.97,.96,.96,.96,.97,.96,.96,.97,.96,.96,.97,.96,.96,.96]]
d_tak_jnk = [[.46,.46,.46,.46,.48,.49,.46,.46,.46,.46,.47,.47,.47,.48,.48,.48,.49,.49,.49,.50,.50],
             [.48,.47,.48,.49,.50,.51,.50,.51,.52,.53,.55,.54,.56,.55,.58,.60,.57,.56,.58,.57,.62],
             [.44,.45,.46,.45,.47,.48,.46,.47,.48,.47,.49,.50,.49,.51,.50,.52,.53,.51,.50,.52,.53],
             [.43,.42,.43,.44,.45,.44,.43,.44,.43,.44,.42,.43,.44,.43,.42,.43,.42,.41,.42,.41,.42]]
d_tak_p38 = [[.63,.58,.56,.55,.55,.55,.55,.56,.56,.56,.57,.57,.58,.58,.59,.59,.60,.60,.61,.62,.62],
             [.70,.60,.58,.57,.57,.58,.60,.65,.70,.66,.62,.65,.68,.64,.62,.60,.62,.58,.60,.64,.66],
             [.60,.56,.54,.55,.53,.54,.55,.54,.52,.54,.53,.52,.54,.55,.53,.52,.54,.52,.51,.53,.52],
             [.58,.55,.52,.53,.54,.51,.52,.53,.51,.50,.52,.51,.50,.52,.51,.50,.49,.50,.51,.49,.50],
             [.56,.54,.55,.53,.54,.55,.56,.55,.56,.57,.56,.58,.57,.59,.58,.60,.59,.61,.62,.60,.62]]

d_cot_erk = [[1.18,1.08,1.03,1.01,1.04,1.09,1.00,.98,.97,.97,.97,.97,.97,.97,.97,.97,.97,.97,.97,.97,.97],
             [1.10,1.05,1.02,1.01,1.03,1.08,1.05,1.04,1.03,1.03,1.02,1.03,1.02,1.02,1.03,1.02,1.03,1.02,1.03,1.04,1.04],
             [1.05,1.00,.98,.97,.98,1.00,.97,.96,.95,.95,.95,.96,.95,.95,.95,.96,.95,.95,.96,.95,.95]]
d_cot_jnk = [[.60,.60,.60,.60,1.05,1.10,.65,.60,.60,.62,.61,.60,.60,.60,.60,.60,.60,.60,.60,.60,.61],
             [.62,.60,.61,.62,1.30,1.40,.70,.62,.60,.61,.62,.66,.68,.70,.72,.74,.72,.70,.75,.74,.76],
             [.70,.68,.66,.64,1.20,1.25,.68,.64,.63,.64,.65,.64,.66,.65,.66,.67,.68,.66,.68,.70,.68],
             [.56,.57,.56,.55,.95,1.00,.60,.55,.56,.57,.55,.56,.55,.54,.55,.56,.55,.54,.55,.56,.55]]
d_cot_p38 = [[.53,.51,.50,.52,.82,.70,.50,.49,.50,.50,.51,.52,.53,.54,.55,.56,.57,.58,.60,.62,.63],
             [.60,.65,.55,.58,.92,.80,.62,.60,.65,.60,.62,.58,.65,.70,.75,.80,.88,.95,1.05,1.15,1.27],
             [.85,.80,.75,.70,.95,.72,.68,.65,.70,.78,.72,.68,.70,.72,.68,.75,.70,.72,.74,.70,.72],
             [.40,.45,.42,.50,.78,.60,.48,.45,.47,.46,.50,.48,.55,.52,.58,.62,.58,.66,.70,.68,.72],
             [.48,.45,.47,.46,.85,.65,.47,.45,.44,.46,.45,.42,.44,.46,.48,.45,.47,.44,.46,.42,.44]]

# labels
REPORTERS = ["ERK-KTR", "JNK-KTR", "p38-KTR"]
A_ROWS = ["Media", "H$_2$O$_2$", "Sorbitol", "EGF", "ANS", "TNFα", "S1P"]
A_FR = ["FR=1", "1", "1", "1", "1", "1", "0.37"]
B_ROWS = [("TNFα", "COT$^{\\rm KO}$"), ("H$_2$O$_2$", "ASKi"), ("Sorbitol", "MEKKi"), ("EGF", "RAFi"),
          ("ANS", "ZAK$^{\\rm KO}$"), ("TNFα", "TAK$^{\\rm KO}$"), ("S1P", "MLKi")]
C_ROWS = ["Med", "MLKi", "RAFi", "MLKi+RAFi"]
D_ROWS = ["Par", "TAK$^{\\rm KO}$", "COT$^{\\rm KO}$"]

PANEL_A = [(a_media_erk, a_media_jnk, a_media_p38), (a_h2o2_erk, a_h2o2_jnk, a_h2o2_p38),
           (a_sorb_erk, a_sorb_jnk, a_sorb_p38), (a_egf_erk, a_egf_jnk, a_egf_p38),
           (a_ans_erk, a_ans_jnk, a_ans_p38), (a_tnf_erk, a_tnf_jnk, a_tnf_p38),
           (a_s1p_erk, a_s1p_jnk, a_s1p_p38)]
PANEL_B = [(b_cot_erk, b_cot_jnk, b_cot_p38), (b_ask_erk, b_ask_jnk, b_ask_p38),
           (b_mekk_erk, b_mekk_jnk, b_mekk_p38), (b_raf_erk, b_raf_jnk, b_raf_p38),
           (b_zak_erk, b_zak_jnk, b_zak_p38), (b_tak_erk, b_tak_jnk, b_tak_p38),
           (b_mlk_erk, b_mlk_jnk, b_mlk_p38)]
PANEL_C = [(c_med_erk, c_med_jnk, c_med_p38), (c_mlk_erk, c_mlk_jnk, c_mlk_p38),
           (c_raf_erk, c_raf_jnk, c_raf_p38), (c_mlkraf_erk, c_mlkraf_jnk, c_mlkraf_p38)]
PANEL_D = [(d_par_erk, d_par_jnk, d_par_p38), (d_tak_erk, d_tak_jnk, d_tak_p38),
           (d_cot_erk, d_cot_jnk, d_cot_p38)]

DARK = ["#27359a", "#c01a2c", "#0b6b3a"]
LIGHT = ["#9aa3d6", "#e8939b", "#7dbe9b"]
YLIM = [(.2, 3.0), (.2, 1.6), (.3, 1.3)]
YLBL = [(".2", "3"), (".2", "1.6"), (".3", "1.3")]

# ---------------- style ----------------
sns.set_theme(style="white")
plt.rcParams['font.family'] = ['Liberation Sans', 'DejaVu Sans']
plt.rcParams['mathtext.fontset'] = 'custom'
plt.rcParams['mathtext.rm'] = 'Liberation Sans'
plt.rcParams['mathtext.it'] = 'Liberation Sans:italic'
plt.rcParams['mathtext.bf'] = 'Liberation Sans:bold'
plt.rcParams['axes.unicode_minus'] = False

names = {f.name for f in font_manager.fontManager.ttflist}
NARROW = 'Liberation Sans Narrow' if 'Liberation Sans Narrow' in names else 'Liberation Sans'

W, H = 1800, 1184
fig = plt.figure(figsize=(W / 100, H / 100), dpi=100)
TXT = "#222222"


def fx(x):
    return x / W


def fy(y):
    return 1 - y / H


def add_ax(x0, y0, w, h):
    return fig.add_axes([x0 / W, 1 - (y0 + h) / H, w / W, h / H])


def draw(ax, t, traces, k, stim, xmax, xticks, bottom):
    rows = []
    for i, tr in enumerate(traces):
        for tt, v in zip(t, tr):
            rows.append((tt, v, i))
    df = pd.DataFrame(rows, columns=["time", "value", "trace"])
    ax.axvline(stim, color="#222222", lw=1.3, dashes=(5.5, 4.5), zorder=1)
    thin = df[df["trace"] > 0]
    if len(thin):
        sns.lineplot(data=thin, x="time", y="value", units="trace", estimator=None,
                     color=LIGHT[k], lw=1.15, ax=ax, legend=False, zorder=2)
    sns.lineplot(data=df[df["trace"] == 0], x="time", y="value", color=DARK[k],
                 lw=3.0, ax=ax, legend=False, zorder=3)
    lo, hi = YLIM[k]
    ax.set_xlim(0, xmax)
    ax.set_ylim(lo, hi)
    ax.set_yticks([lo, (lo + hi) / 2, hi])
    ax.set_yticklabels([YLBL[k][0], "", YLBL[k][1]])
    ax.set_xticks(xticks)
    ax.set_xticklabels([str(x) for x in xticks])
    for s in ["top", "right"]:
        ax.spines[s].set_visible(False)
    for s in ["left", "bottom"]:
        ax.spines[s].set_color("#222222")
        ax.spines[s].set_linewidth(1.4)
    ax.tick_params(axis="y", direction="out", length=3, width=1.2, pad=1,
                   labelsize=13, labelcolor="#333333", color="#222222")
    ax.tick_params(axis="x", direction="in", length=5, width=1.2, pad=7,
                   labelsize=14, labelcolor="#333333", color="#222222",
                   labelbottom=bottom)
    ax.set_ylabel("")
    if bottom:
        ax.set_xlabel("time (hours)", fontsize=16, color="#333333", labelpad=-1)
    else:
        ax.set_xlabel("")
    ax.set_facecolor("none")


def hline(x0, x1, y, **kw):
    fig.add_artist(Line2D([fx(x0), fx(x1)], [fy(y), fy(y)], transform=fig.transFigure, **kw))


def vline(x, y0, y1, **kw):
    fig.add_artist(Line2D([fx(x), fx(x)], [fy(y0), fy(y1)], transform=fig.transFigure, **kw))


# ---------------- panel a ----------------
A_COLS = [92, 242, 394]
A_TOPS = [145, 292, 437, 582, 724, 868, 1015]
for r, row in enumerate(PANEL_A):
    for k in range(3):
        ax = add_ax(A_COLS[k], A_TOPS[r], 125, 117)
        draw(ax, T6, row[k], k, 1.2, 6, [0, 3, 6], r == 6)
        if k == 2:
            ax.text(0.95, 1.03, A_FR[r], transform=ax.transAxes, ha="right", va="top",
                    fontsize=17, color=TXT)
    fig.text(fx(70), fy(A_TOPS[r] + 60), A_ROWS[r], rotation=90, ha="center", va="center",
             fontsize=18, color=TXT)

# ---------------- panel b ----------------
B_COLS = [690, 828, 966]
B_TOPS = [147, 293, 437, 582, 724, 870, 1017]
for r, row in enumerate(PANEL_B):
    for k in range(3):
        ax = add_ax(B_COLS[k], B_TOPS[r], 118, 111)
        draw(ax, T6, row[k], k, 1.0, 6, [0, 3, 6], r == 6)
    l1, l2 = B_ROWS[r]
    fig.text(fx(646), fy(B_TOPS[r] + 56), l1, rotation=90, ha="center", va="center",
             fontsize=18, color=TXT)
    fig.text(fx(675), fy(B_TOPS[r] + 56), l2, rotation=90, ha="center", va="center",
             fontsize=18, color=TXT)

# ---------------- panel c ----------------
C_COLS = [1295, 1445, 1592]
C_TOPS = [67, 213, 358, 503]
for r, row in enumerate(PANEL_C):
    for k in range(3):
        ax = add_ax(C_COLS[k], C_TOPS[r], 123, 115)
        draw(ax, T3, row[k], k, 1.0, 3, [0, 1, 2, 3], r == 3)
    if r == 3:
        fig.text(fx(1267), fy(C_TOPS[r] + 53), C_ROWS[r], rotation=90,
                 ha="center", va="center", fontsize=15, color=TXT)
    else:
        fig.text(fx(1273), fy(C_TOPS[r] + 58), C_ROWS[r], rotation=90,
                 ha="center", va="center", fontsize=18, color=TXT)

# ---------------- panel d ----------------
D_COLS = [1297, 1445, 1592]
D_TOPS = [725, 872, 1017]
for r, row in enumerate(PANEL_D):
    for k in range(3):
        ax = add_ax(D_COLS[k], D_TOPS[r], 123, 112)
        stim = 1.2 if (r == 0 and k == 0) else 1.0
        draw(ax, T6, row[k], k, stim, 6, [0, 3, 6], r == 2)
    fig.text(fx(1273), fy(D_TOPS[r] + 56), D_ROWS[r], rotation=90, ha="center", va="center",
             fontsize=18, color=TXT)

# ---------------- headers, separators, labels ----------------
for cols, w, y in [(A_COLS, 125, 113), (B_COLS, 118, 113), (C_COLS, 123, 52), (D_COLS, 123, 706)]:
    for k in range(3):
        fig.text(fx(cols[k] + w / 2), fy(y), REPORTERS[k], ha="center", va="center",
                 fontsize=19, fontweight="bold", color=DARK[k])

for y in [130, 277, 422, 567, 710, 857, 1003]:
    hline(45, 1090, y, color="#808080", lw=1.5, dashes=(4.3, 2.9))

vline(55, 130, 1135, color="#333333", lw=1.5)
fig.text(fx(36), fy(565), "MAPK Activity (KTR median intensity cytoring/nuclei)", rotation=90,
         ha="center", va="center", fontsize=18.5, color=TXT)

fig.text(fx(878), fy(50), "Genetically/Chemically inhibited", ha="center", va="center",
         fontsize=17 if NARROW != 'Liberation Sans' else 14.5, family=[NARROW, 'DejaVu Sans'], color=TXT)
hline(671, 1085, 75, color="#333333", lw=1.5)

vline(1253, 60, 620, color="#333333", lw=1.5)
fig.text(fx(1236), fy(340), "EGF (MAPK Activity)", rotation=90, ha="center", va="center",
         fontsize=18.5, color=TXT)
vline(1253, 722, 1137, color="#333333", lw=1.5)
fig.text(fx(1236), fy(928), "IL-1β (MAPK Activity)", rotation=90, ha="center", va="center",
         fontsize=19.5, color=TXT)

# stray axis fragment visible in the original (RAFi row)
hline(1475, 1592, 472, color="#222222", lw=1.4)
fig.text(fx(1553), fy(479), ".3", ha="right", va="center", fontsize=13, color="#333333")

for letter, x, y in [("a", 8, 14), ("b", 601, 14), ("c", 1210, 22), ("d", 1210, 680)]:
    fig.text(fx(x), fy(y), letter, ha="center", va="center", fontsize=25, fontweight="bold",
             color="black")

fig.savefig("out.png", dpi=100)
